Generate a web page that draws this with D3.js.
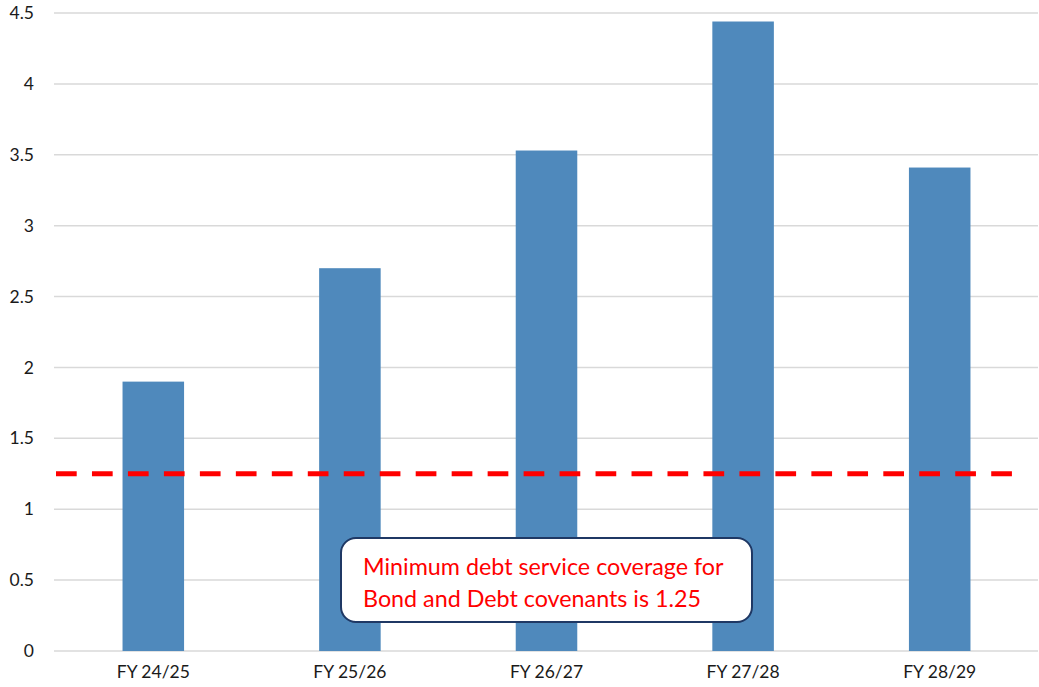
<!DOCTYPE html>
<html><head><meta charset="utf-8">
<script src="https://cdn.jsdelivr.net/npm/d3@7"></script>
<style>body{margin:0;background:#fff}svg{display:block}</style>
</head><body>
<svg id="c" width="1039" height="687"></svg>
<script>
const categories = ["FY 24/25","FY 25/26","FY 26/27","FY 27/28","FY 28/29"];
const coverage = [1.90, 2.70, 3.53, 4.44, 3.41];
const yTicks = [0,0.5,1,1.5,2,2.5,3,3.5,4,4.5];
const minimumCoverage = 1.25;
const noteLines = ["Minimum debt service coverage for","Bond and Debt covenants is 1.25"];

const svg = d3.select("#c");
const font = "Lato, 'Open Sans', sans-serif";
const x = d3.scaleBand().domain(categories).range([55,1038]).paddingInner(0.687).paddingOuter(0.3435);
const y = d3.scaleLinear().domain([0,4.5]).range([651,13]);

// gridlines
svg.append("g").selectAll("line").data(yTicks).join("line")
  .attr("x1",54).attr("x2",1038)
  .attr("y1",d=>y(d)).attr("y2",d=>y(d))
  .attr("stroke","#d9d9d9").attr("stroke-width",1.5);

// y axis labels
const yAxis = d3.axisLeft(y).tickValues(yTicks).tickSize(0).tickPadding(0).tickFormat(d3.format("~g"));
const ya = svg.append("g").attr("transform","translate(34,0)").call(yAxis);
ya.select(".domain").remove();
ya.selectAll("text").attr("font-family",font).attr("font-size",17.5).attr("fill","#1a1a1a");

// bars
svg.append("g").selectAll("rect").data(categories).join("rect")
  .attr("x",d=>x(d)).attr("width",x.bandwidth())
  .attr("y",(d,i)=>y(coverage[i])).attr("height",(d,i)=>y(0)-y(coverage[i]))
  .attr("fill","#4F89BC");

// x axis labels
const xAxis = d3.axisBottom(x).tickSize(0).tickPadding(0);
const xa = svg.append("g").attr("transform","translate(0,666)").call(xAxis);
xa.select(".domain").remove();
xa.selectAll("text").attr("font-family",font).attr("font-size",17.5).attr("fill","#1a1a1a").attr("dy","0.71em");

// dashed minimum line
svg.append("line").attr("x1",56).attr("x2",1012)
  .attr("y1",y(minimumCoverage)).attr("y2",y(minimumCoverage))
  .attr("stroke","#FF0000").attr("stroke-width",5).attr("stroke-dasharray","20.7,15.27");

// annotation box
svg.append("rect").attr("x",341).attr("y",538).attr("width",411).attr("height",84)
  .attr("rx",15).attr("ry",15).attr("fill","#fff").attr("stroke","#1F3864").attr("stroke-width",2);
svg.append("g").selectAll("text").data(noteLines).join("text")
  .attr("x",363).attr("y",(d,i)=>575+i*31.5)
  .attr("font-family",font).attr("font-size",23.3).attr("fill","#FF0000").text(d=>d);
</script>
</body></html>
